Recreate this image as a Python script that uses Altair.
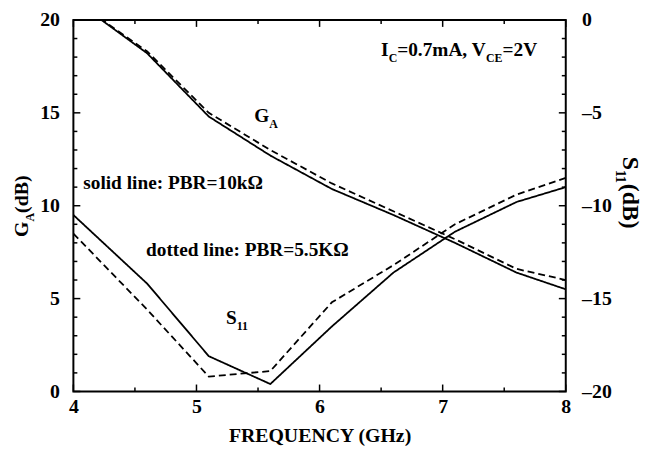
import altair as alt
import pandas as pd

# ---------------- data ----------------
freq = [4.0, 4.6, 5.1, 5.6, 6.1, 6.6, 7.1, 7.6, 8.0]
ga_solid = [21.1, 18.2, 14.8, 12.7, 10.9, 9.5, 8.0, 6.4, 5.5]
ga_dashed = [21.1, 18.3, 15.0, 13.0, 11.2, 9.7, 8.2, 6.6, 6.0]
s11_solid = [-10.5, -14.2, -18.1, -19.6, -16.5, -13.6, -11.4, -9.8, -9.0]
s11_dashed = [-11.5, -15.6, -19.2, -18.9, -15.2, -13.2, -11.0, -9.4, -8.5]

x_major = [4, 5, 6, 7, 8]
x_minor = [4.5, 5.5, 6.5, 7.5]
ga_major = [0, 5, 10, 15, 20]
ga_minor = [1, 2, 3, 4, 6, 7, 8, 9, 11, 12, 13, 14, 16, 17, 18, 19]
s11_major = [-20, -15, -10, -5, 0]
s11_minor = [-19, -18, -17, -16, -14, -13, -12, -11, -9, -8, -7, -6, -4, -3, -2, -1]

# annotation pieces: (text, is_subscript)
ic_label = [("I", False), ("C", True), ("=0.7mA, V", False), ("CE", True), ("=2V", False)]
ga_label = [("G", False), ("A", True)]
s11_label = [("S", False), ("11", True)]
solid_label = [("solid line: PBR=10k\u03a9", False)]
dotted_label = [("dotted line: PBR=5.5K\u03a9", False)]
# anchor (frequency, GA dB) of each annotation's start / baseline
ic_pos = (6.5, 18.05)
ga_pos = (5.47, 14.5)
s11_pos = (5.24, 3.65)
solid_pos = (4.08, 10.9)
dotted_pos = (4.59, 7.3)

x_title = "FREQUENCY (GHz)"
left_title = [("G", False), ("A", True), ("(dB)", False)]
right_title = [("S", False), ("11", True), (" (dB)", False)]

# ---------------- layout ----------------
W, H = 497, 375
PXU = W / 4.0      # px per GHz
PYU = H / 20.0     # px per dB
FONT = "Liberation Serif"
F_MAIN = 19.5
F_SUB = 12
F_TICK = 20
F_TITLE = 20
F_RTITLE = 24
F_RSUB = 14
SUB_DROP = 6

TB = {" ": 250, "(": 333, ")": 333, ",": 250, ".": 250, ":": 333, "=": 570,
      "A": 722, "B": 667, "C": 722, "E": 667, "G": 778, "I": 389, "K": 778,
      "P": 611, "R": 722, "S": 556, "V": 722, "a": 500, "d": 556, "e": 444,
      "i": 278, "k": 556, "l": 278, "m": 833, "n": 556, "o": 500, "s": 389,
      "t": 333, "\u03a9": 768}


def tw(s, size):
    return sum(TB.get(c, 500) for c in s) * size / 1000.0


def pieces_df(pieces, pos):
    rows = []
    off = 0.0
    for txt, sub in pieces:
        size = F_SUB if sub else F_MAIN
        rows.append({"t": txt,
                     "x": pos[0] + off / PXU,
                     "y": pos[1] - (SUB_DROP / PYU if sub else 0.0),
                     "fs": size})
        off += tw(txt, size)
    return rows


ann_rows = []
for p, pos in [(ic_label, ic_pos), (ga_label, ga_pos), (s11_label, s11_pos),
               (solid_label, solid_pos), (dotted_label, dotted_pos)]:
    ann_rows += pieces_df(p, pos)
ann_df = pd.DataFrame(ann_rows)

ga_df = pd.DataFrame({"f": freq * 2, "v": ga_solid + ga_dashed,
                      "s": ["solid"] * len(freq) + ["dashed"] * len(freq)})
s11_df = pd.DataFrame({"f": freq * 2, "v": s11_solid + s11_dashed,
                       "s": ["solid"] * len(freq) + ["dashed"] * len(freq)})

xs = alt.Scale(domain=[4, 8], nice=False, zero=False)
gas = alt.Scale(domain=[0, 20], nice=False, zero=False)
s1s = alt.Scale(domain=[-20, 0], nice=False, zero=False)
dash = alt.StrokeDash("s:N", scale=alt.Scale(domain=["solid", "dashed"], range=[[1, 0], [7, 4]]), legend=None)

axis_common = dict(domain=False, ticks=False, grid=False, labelFont=FONT, labelFontSize=F_TICK,
                   labelFontWeight="bold", labelColor="black", titleFont=FONT,
                   titleFontWeight="bold", titleColor="black", titleFontSize=F_TITLE)

x_axis = alt.Axis(values=x_major, title=x_title, labelPadding=5, titlePadding=9,
                  labelFlush=False, **axis_common)
ga_axis = alt.Axis(values=ga_major, title="", orient="left", labelPadding=14, **axis_common)
s11_axis = alt.Axis(values=s11_major, title="", orient="right", labelPadding=16,
                    labelFlush=False, labelExpr="replace(datum.label, '\u2212', '\u2013')",
                    **axis_common)

ga_lines = alt.Chart(ga_df).mark_line(color="black", strokeWidth=1.8, clip=True).encode(
    x=alt.X("f:Q", scale=xs, axis=x_axis),
    y=alt.Y("v:Q", scale=gas, axis=ga_axis),
    strokeDash=dash, detail="s:N")

s11_lines = alt.Chart(s11_df).mark_line(color="black", strokeWidth=1.8, clip=True).encode(
    x=alt.X("f:Q", scale=xs, axis=x_axis),
    y=alt.Y("v:Q", scale=s1s, axis=s11_axis),
    strokeDash=dash, detail="s:N")


def xticks(vals, length):
    d = pd.DataFrame({"t": vals})
    bottom = alt.Chart(d).mark_rule(color="black", strokeWidth=1.5).encode(
        x=alt.X("t:Q", scale=xs, axis=x_axis), y=alt.value(H), y2=alt.value(H - length))
    top = alt.Chart(d).mark_rule(color="black", strokeWidth=1.5).encode(
        x=alt.X("t:Q", scale=xs, axis=x_axis), y=alt.value(0), y2=alt.value(length))
    return [bottom, top]


def yticks(vals, length, scale, axis, right):
    d = pd.DataFrame({"t": vals})
    x0 = W if right else 0
    x1 = W - length if right else length
    return alt.Chart(d).mark_rule(color="black", strokeWidth=1.5).encode(
        y=alt.Y("t:Q", scale=scale, axis=axis), x=alt.value(x0), x2=alt.value(x1))


ann = alt.Chart(ann_df).mark_text(font=FONT, fontWeight="bold", align="left",
                                  baseline="alphabetic", color="black").encode(
    x=alt.X("x:Q", scale=xs, axis=x_axis),
    y=alt.Y("y:Q", scale=gas, axis=ga_axis),
    text="t:N",
    size=alt.Size("fs:Q", scale=None, legend=None))

one = pd.DataFrame({"a": [0]})


def rot_title(pieces, x_px, start_px, angle, fmain, fsub, drop_px):
    marks = []
    off = 0.0
    sign = -1 if angle == 270 else 1
    for txt, sub in pieces:
        size = fsub if sub else fmain
        drop = drop_px if sub else 0
        xx = x_px + (drop if angle == 270 else -drop)
        yy = start_px + sign * off
        marks.append(alt.Chart(one).mark_text(font=FONT, fontWeight="bold", fontSize=size,
                                              angle=angle, align="left", baseline="alphabetic",
                                              color="black").encode(
            text=alt.value(txt), x=alt.value(xx), y=alt.value(yy)))
        off += tw(txt, size)
    return marks


left_marks = rot_title(left_title, -46, 219, 270, F_TITLE, F_SUB, SUB_DROP)
right_marks = rot_title(right_title, 555, 138, 90, F_RTITLE, F_RSUB, 7)

ga_layer = alt.layer(ga_lines, *xticks(x_major, 7), *xticks(x_minor, 4),
                     yticks(ga_major, 7, gas, ga_axis, False), yticks(ga_minor, 4, gas, ga_axis, False),
                     ann, *left_marks, *right_marks)
s11_layer = alt.layer(s11_lines, yticks(s11_major, 7, s1s, s11_axis, True),
                      yticks(s11_minor, 4, s1s, s11_axis, True))

chart = alt.layer(ga_layer, s11_layer).resolve_scale(y="independent").properties(
    width=W, height=H,
    autosize=alt.AutoSizeParams(type="none"),
    padding={"left": 66, "top": 10, "right": 82, "bottom": 56},
    background="white",
).configure_view(stroke="black", strokeWidth=2)

chart.save("out.html", embed_options={"renderer": "svg", "actions": False})
